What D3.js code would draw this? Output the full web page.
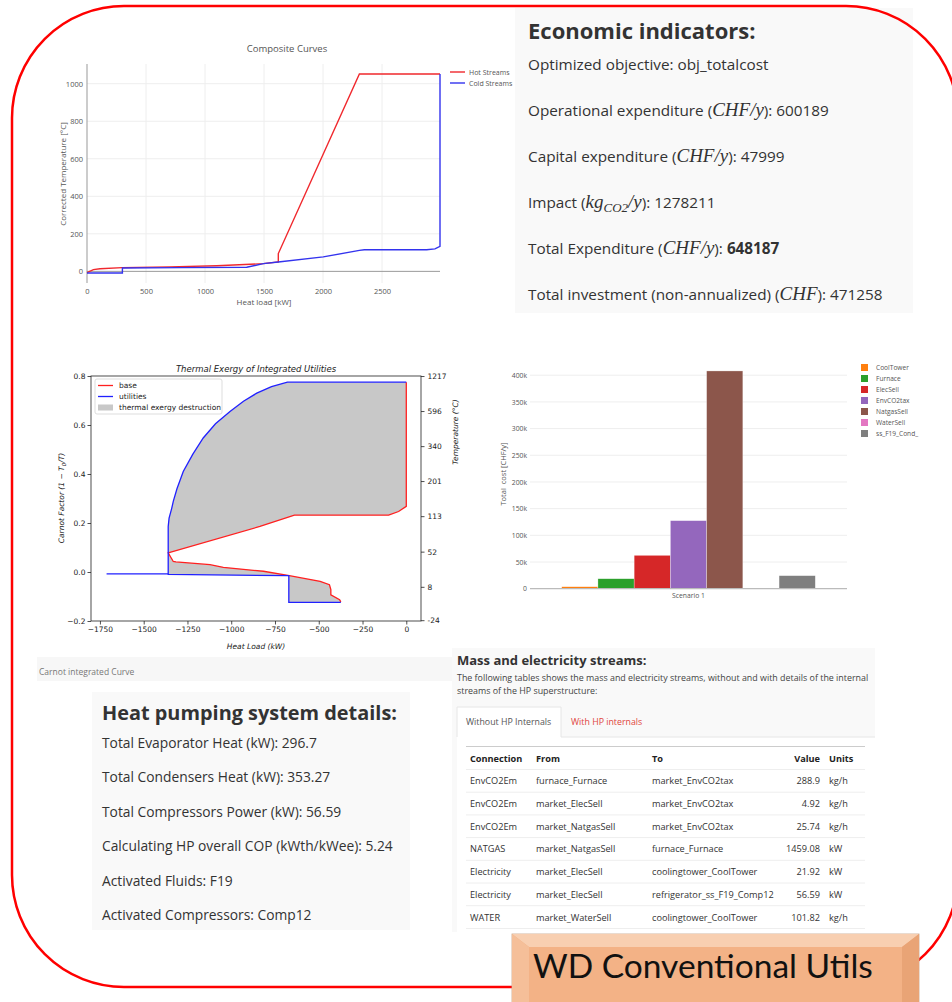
<!DOCTYPE html>
<html>
<head>
<meta charset="utf-8">
<script src="https://cdn.jsdelivr.net/npm/d3@7"></script>
<style>
body { margin: 0; background: #fff; }
svg { display: block; }
</style>
</head>
<body>
<svg id="page" width="952" height="1002"></svg>
<script>
// ---- composite curves ----
var hotLoad = [0, 54, 110, 300, 700, 1100, 1494, 1621, 1621, 2308, 2991];
var hotTemp = [-7, 9, 14, 20, 24, 30, 41, 50, 95, 1052, 1052];
var coldLoad = [0, 300, 300, 800, 1353, 1494, 1621, 2002, 2308, 2350, 2878, 2948, 2991, 2991];
var coldTemp = [-9, -9, 18, 20, 22, 41, 50, 77, 112, 115, 115, 120, 133, 1052];
var ccLoadTicks = [0, 500, 1000, 1500, 2000, 2500];
var ccTempTicks = [0, 200, 400, 600, 800, 1000];

// ---- thermal exergy (carnot) ----
var baseLoad = [0, 0, -44, -101, -639, -836, -1360, -1331, -1316, -1121, -1045, -816, -668, -492, -439, -431, -431, -381, -374];
var baseCarnot = [0.775, 0.268, 0.247, 0.232, 0.232, 0.186, 0.078, 0.043, 0.041, 0.030, 0.019, 0.003, -0.015, -0.038, -0.052, -0.072, -0.093, -0.113, -0.122];
var utilLoad = [-374, -671, -671, -1360, -1360, -1355, -1340, -1331, -1310, -1274, -1220, -1160, -1090, -1007, -930, -854, -770, -679, 0];
var utilCarnot = [-0.124, -0.124, -0.015, -0.010, 0.186, 0.22, 0.26, 0.288, 0.34, 0.41, 0.48, 0.547, 0.605, 0.655, 0.697, 0.73, 0.757, 0.775, 0.775];
var utilTailLoad = [-1712, -1360];
var utilTailCarnot = [-0.008, -0.008];
var carnotTicks = [0.8, 0.6, 0.4, 0.2, 0.0, -0.2];
var exLoadTicks = [-1750, -1500, -1250, -1000, -750, -500, -250, 0];
var tempTicks = [1217, 596, 340, 201, 113, 52, 8, -24];

// ---- cost bars ----
var costNames = ["CoolTower", "Furnace", "ElecSell", "EnvCO2tax", "NatgasSell", "WaterSell", "ss_F19_Cond_"];
var costValues = [3700, 18700, 62500, 127500, 408000, 1000, 24400];
var costColors = ["#ff7f0e", "#2ca02c", "#d62728", "#9467bd", "#8c564b", "#e377c2", "#7f7f7f"];
var costTicks = [0, 50000, 100000, 150000, 200000, 250000, 300000, 350000, 400000];
var scenarios = ["Scenario 1"];

// ---- text panels ----
var hpLines = [
	"Total Evaporator Heat (kW): 296.7",
	"Total Condensers Heat (kW): 353.27",
	"Total Compressors Power (kW): 56.59",
	"Calculating HP overall COP (kWth/kWee): 5.24",
	"Activated Fluids: F19",
	"Activated Compressors: Comp12"
];
var tableHeader = ["Connection", "From", "To", "Value", "Units"];
var colConnection = ["EnvCO2Em", "EnvCO2Em", "EnvCO2Em", "NATGAS", "Electricity", "Electricity", "WATER"];
var colFrom = ["furnace_Furnace", "market_ElecSell", "market_NatgasSell", "market_NatgasSell", "market_ElecSell", "market_ElecSell", "market_WaterSell"];
var colTo = ["market_EnvCO2tax", "market_EnvCO2tax", "market_EnvCO2tax", "furnace_Furnace", "coolingtower_CoolTower", "refrigerator_ss_F19_Comp12", "coolingtower_CoolTower"];
var colValue = ["288.9", "4.92", "25.74", "1459.08", "21.92", "56.59", "101.82"];
var colUnits = ["kg/h", "kg/h", "kg/h", "kW", "kW", "kW", "kg/h"];

var svg = d3.select("#page");
var SANS = "'Open Sans', sans-serif";
var MPL = "'DejaVu Sans', sans-serif";
var MATH = "'Liberation Serif', serif";

function zip(a, b) {
	return a.map(function(d, i) { return [d, b[i]]; });
}

/* Composite Curves (plotly style) */
function drawComposite() {
	var g = svg.append("g");
	var x = d3.scaleLinear().domain([0, 2991]).range([87, 440]);
	var y = d3.scaleLinear().domain([-62, 1105]).range([283, 64]);

	g.selectAll(".vg").data(ccLoadTicks.slice(1)).enter().append("line")
		.attr("x1", function(d) { return x(d); }).attr("x2", function(d) { return x(d); })
		.attr("y1", 64).attr("y2", 283)
		.attr("stroke", "#eee");
	g.selectAll(".hg").data(ccTempTicks.slice(1)).enter().append("line")
		.attr("x1", 87).attr("x2", 440)
		.attr("y1", function(d) { return y(d); }).attr("y2", function(d) { return y(d); })
		.attr("stroke", "#eee");
	// zero lines
	g.append("line").attr("x1", x(0)).attr("x2", x(0)).attr("y1", 64).attr("y2", 283)
		.attr("stroke", "#999").attr("stroke-width", 1);
	g.append("line").attr("x1", 87).attr("x2", 440).attr("y1", y(0)).attr("y2", y(0))
		.attr("stroke", "#999").attr("stroke-width", 1);

	var xAxis = d3.axisBottom(x).tickValues(ccLoadTicks).tickSize(0).tickPadding(6).tickFormat(d3.format("d"));
	var yAxis = d3.axisLeft(y).tickValues(ccTempTicks).tickSize(0).tickPadding(4).tickFormat(d3.format("d"));
	var ga = g.append("g").attr("transform", "translate(0,283)").call(xAxis);
	var gb = g.append("g").attr("transform", "translate(87,0)").call(yAxis);
	[ga, gb].forEach(function(a) {
		a.select(".domain").remove();
		a.selectAll("text").attr("fill", "#555").style("font-family", SANS).style("font-size", "7.5px");
	});

	var line = d3.line().x(function(d) { return x(d[0]); }).y(function(d) { return y(d[1]); });
	g.append("path").datum(zip(hotLoad, hotTemp)).attr("d", line)
		.attr("fill", "none").attr("stroke", "#f0282d").attr("stroke-width", 1.4);
	g.append("path").datum(zip(coldLoad, coldTemp)).attr("d", line)
		.attr("fill", "none").attr("stroke", "#3333ee").attr("stroke-width", 1.4);

	g.append("text").attr("x", 287).attr("y", 52).attr("text-anchor", "middle")
		.style("font-family", SANS).style("font-size", "9.5px").attr("fill", "#555")
		.text("Composite Curves");
	g.append("text").attr("x", 264).attr("y", 305).attr("text-anchor", "middle")
		.style("font-family", SANS).style("font-size", "8px").attr("fill", "#555")
		.text("Heat load [kW]");
	g.append("text").attr("transform", "translate(66,174) rotate(-90)").attr("text-anchor", "middle")
		.style("font-family", SANS).style("font-size", "8px").attr("fill", "#555")
		.text("Corrected Temperature [°C]");

	var leg = [["Hot Streams", "#f0282d"], ["Cold Streams", "#3333ee"]];
	leg.forEach(function(l, i) {
		g.append("line").attr("x1", 450).attr("x2", 465).attr("y1", 72 + i * 11).attr("y2", 72 + i * 11)
			.attr("stroke", l[1]).attr("stroke-width", 1.4);
		g.append("text").attr("x", 469).attr("y", 75 + i * 11)
			.style("font-family", SANS).style("font-size", "7px").attr("fill", "#555").text(l[0]);
	});
}

/* Thermal exergy (matplotlib style) */
function drawExergy() {
	var g = svg.append("g");
	g.append("rect").attr("x", 37).attr("y", 657).attr("width", 426).attr("height", 24).attr("fill", "#f7f7f7");
	g.append("text").attr("x", 39).attr("y", 675).style("font-family", SANS).style("font-size", "8.5px")
		.attr("fill", "#777").text("Carnot integrated Curve");

	var x = d3.scaleLinear().domain([-1801, 84]).range([91, 421]);
	var y = d3.scaleLinear().domain([-0.2, 0.8]).range([621, 376]);
	var line = d3.line().x(function(d) { return x(d[0]); }).y(function(d) { return y(d[1]); });

	var fillPts = zip(baseLoad, baseCarnot).concat(zip(utilLoad, utilCarnot));
	g.append("path").attr("d", line(fillPts) + "Z").attr("fill", "#c8c8c8").attr("stroke", "none");
	g.append("path").datum(zip(baseLoad, baseCarnot)).attr("d", line)
		.attr("fill", "none").attr("stroke", "#ff2020").attr("stroke-width", 1.3);
	g.append("path").datum(zip(utilLoad, utilCarnot)).attr("d", line)
		.attr("fill", "none").attr("stroke", "#2020ff").attr("stroke-width", 1.3);
	g.append("path").datum(zip(utilTailLoad, utilTailCarnot)).attr("d", line)
		.attr("fill", "none").attr("stroke", "#2020ff").attr("stroke-width", 1.3);

	// frame
	g.append("rect").attr("x", 91).attr("y", 376).attr("width", 330).attr("height", 245)
		.attr("fill", "none").attr("stroke", "#222").attr("stroke-width", 0.8);

	var xAxis = d3.axisBottom(x).tickValues(exLoadTicks).tickSize(3.5).tickPadding(2)
		.tickFormat(function(d) { return d3.format("d")(d).replace("-", "\u2212"); });
	var yAxis = d3.axisLeft(y).tickValues(carnotTicks).tickSize(3.5).tickPadding(2)
		.tickFormat(function(d) { return d3.format(".1f")(d).replace("-", "\u2212"); });
	// right axis: temperature mapped onto carnot factor (T0 = 25 C)
	var yRight = d3.axisRight(y)
		.tickValues(tempTicks.map(function(t) { return 1 - 298.15 / (t + 273.15); }))
		.tickSize(3.5).tickPadding(3)
		.tickFormat(function(d, i) { return tempTicks[i]; });
	var axes = [
		g.append("g").attr("transform", "translate(0,621)").call(xAxis),
		g.append("g").attr("transform", "translate(91,0)").call(yAxis),
		g.append("g").attr("transform", "translate(421,0)").call(yRight)
	];
	axes.forEach(function(a) {
		a.select(".domain").remove();
		a.selectAll("line").attr("stroke", "#222").attr("stroke-width", 0.8);
		a.selectAll("text").attr("fill", "#222").style("font-family", MPL).style("font-size", "7.5px");
	});

	g.append("text").attr("x", 256).attr("y", 372).attr("text-anchor", "middle")
		.style("font-family", MPL).style("font-size", "8.5px").style("font-style", "italic")
		.attr("fill", "#222").text("Thermal Exergy of Integrated Utilities");
	g.append("text").attr("x", 256).attr("y", 649).attr("text-anchor", "middle")
		.style("font-family", MPL).style("font-size", "7.5px").style("font-style", "italic")
		.attr("fill", "#222").text("Heat Load (kW)");
	var yl = g.append("text").attr("transform", "translate(64,498) rotate(-90)").attr("text-anchor", "middle")
		.style("font-family", MPL).style("font-size", "7.5px").style("font-style", "italic").attr("fill", "#222");
	yl.append("tspan").text("Carnot Factor (1 \u2212 ");
	yl.append("tspan").text("T");
	yl.append("tspan").attr("dy", 2).style("font-size", "5.5px").text("0");
	yl.append("tspan").attr("dy", -2).text("/T)");
	g.append("text").attr("transform", "translate(458,432) rotate(-90)").attr("text-anchor", "middle")
		.style("font-family", MPL).style("font-size", "7.5px").style("font-style", "italic")
		.attr("fill", "#222").text("Temperature (°C)");

	// legend
	g.append("rect").attr("x", 95).attr("y", 379).attr("width", 127).attr("height", 35)
		.attr("fill", "#fff").attr("fill-opacity", 0.85).attr("stroke", "#ddd").attr("rx", 2);
	var legs = [["base", "#ff2020", "line"], ["utilities", "#2020ff", "line"], ["thermal exergy destruction", "#c8c8c8", "patch"]];
	legs.forEach(function(l, i) {
		var yy = 385.5 + i * 11;
		if (l[2] == "line") {
			g.append("line").attr("x1", 98).attr("x2", 113).attr("y1", yy).attr("y2", yy)
				.attr("stroke", l[1]).attr("stroke-width", 1.3);
		} else {
			g.append("rect").attr("x", 98).attr("y", yy - 3).attr("width", 15).attr("height", 6).attr("fill", l[1]);
		}
		g.append("text").attr("x", 119).attr("y", yy + 2.7)
			.style("font-family", MPL).style("font-size", "7.5px").attr("fill", "#222").text(l[0]);
	});
}

/* Total cost bars (plotly style) */
function drawCosts() {
	var g = svg.append("g");
	var y = d3.scaleLinear().domain([0, 428500]).range([588.7, 360]);
	var x0 = d3.scaleBand().domain(scenarios).range([530, 847]).paddingInner(0.2).paddingOuter(0.1);
	var x1 = d3.scaleBand().domain(costNames).range([0, x0.bandwidth()]);

	g.selectAll(".grid").data(costTicks.slice(1)).enter().append("line")
		.attr("x1", 530).attr("x2", 847)
		.attr("y1", function(d) { return y(d); }).attr("y2", function(d) { return y(d); })
		.attr("stroke", "#eee");

	g.selectAll(".bar").data(costNames).enter().append("rect")
		.attr("x", function(d) { return x0(scenarios[0]) + x1(d); })
		.attr("width", x1.bandwidth())
		.attr("y", function(d, i) { return y(costValues[i]); })
		.attr("height", function(d, i) { return y(0) - y(costValues[i]); })
		.attr("fill", function(d, i) { return costColors[i]; })
		.attr("stroke", "#fff").attr("stroke-width", 0.5).attr("stroke-opacity", 0.6);

	g.append("line").attr("x1", 530).attr("x2", 847).attr("y1", y(0)).attr("y2", y(0))
		.attr("stroke", "#bbb").attr("stroke-width", 1.2);

	var yAxis = d3.axisLeft(y).tickValues(costTicks).tickSize(0).tickPadding(3)
		.tickFormat(function(d) { return d == 0 ? "0" : (d / 1000) + "k"; });
	var ya = g.append("g").attr("transform", "translate(530,0)").call(yAxis);
	var xAxis = d3.axisBottom(x0).tickSize(0).tickPadding(4);
	var xa = g.append("g").attr("transform", "translate(0,589)").call(xAxis);
	[ya, xa].forEach(function(a) {
		a.select(".domain").remove();
		a.selectAll("text").attr("fill", "#555").style("font-family", SANS).style("font-size", "6.8px");
	});

	g.append("text").attr("transform", "translate(506,474) rotate(-90)").attr("text-anchor", "middle")
		.style("font-family", SANS).style("font-size", "7.5px").attr("fill", "#555")
		.attr("xml:space", "preserve").text("Total  cost [CHF/y]");

	costNames.forEach(function(n, i) {
		var yy = 367.5 + i * 11;
		g.append("rect").attr("x", 861).attr("y", yy - 3.5).attr("width", 7).attr("height", 7)
			.attr("fill", costColors[i]);
		g.append("text").attr("x", 876).attr("y", yy + 2.4)
			.style("font-family", SANS).style("font-size", "6.6px").attr("fill", "#555").text(n);
	});
}

/* Economic indicators panel */
function drawEconomics() {
	var g = svg.append("g");
	g.append("rect").attr("x", 515).attr("y", 8).attr("width", 398).attr("height", 305).attr("fill", "#f9f9f9");
	g.append("text").attr("x", 528).attr("y", 39).style("font-family", SANS).style("font-size", "22px")
		.style("font-weight", "bold").attr("fill", "#333").text("Economic indicators:");

	var lines = [
		[["Optimized objective: obj_totalcost", "n"]],
		[["Operational expenditure (", "n"], ["CHF/y", "m"], ["): 600189", "n"]],
		[["Capital expenditure (", "n"], ["CHF/y", "m"], ["): 47999", "n"]],
		[["Impact (", "n"], ["kg", "m"], ["CO2", "sub"], ["/y", "m"], ["): 1278211", "n"]],
		[["Total Expenditure (", "n"], ["CHF/y", "m"], ["): ", "n"], ["648187", "b"]],
		[["Total investment (non-annualized) (", "n"], ["CHF", "m"], ["): 471258", "n"]]
	];
	lines.forEach(function(parts, i) {
		var t = g.append("text").attr("x", 528).attr("y", 70 + i * 46)
			.style("font-family", SANS).style("font-size", "15.3px").attr("fill", "#333")
			.attr("xml:space", "preserve");
		var shifted = false;
		parts.forEach(function(p) {
			var s = t.append("tspan").text(p[0]);
			if (shifted) { s.attr("dy", -4); shifted = false; }
			if (p[1] == "m") {
				s.style("font-family", MATH).style("font-style", "italic").style("font-size", "19px");
			} else if (p[1] == "sub") {
				s.style("font-family", MATH).style("font-style", "italic").style("font-size", "13px").attr("dy", 4);
				shifted = true;
			} else if (p[1] == "b") {
				s.style("font-weight", "bold");
			}
		});
	});
}

/* Heat pumping panel */
function drawHeatPump() {
	var g = svg.append("g");
	g.append("rect").attr("x", 92).attr("y", 692).attr("width", 318).attr("height", 238).attr("fill", "#f9f9f9");
	g.append("text").attr("x", 102).attr("y", 720).style("font-family", SANS).style("font-size", "19.9px")
		.style("font-weight", "bold").attr("fill", "#333").text("Heat pumping system details:");
	g.selectAll(".hp").data(hpLines).enter().append("text")
		.attr("x", 102).attr("y", function(d, i) { return 748 + i * 34.4; })
		.style("font-family", SANS).style("font-size", "13.8px").attr("fill", "#333")
		.text(function(d) { return d; });
}

/* Mass and electricity streams panel */
function drawStreams() {
	var g = svg.append("g");
	g.append("rect").attr("x", 452).attr("y", 648).attr("width", 423).attr("height", 284).attr("fill", "#f9f9f9");
	g.append("text").attr("x", 457).attr("y", 665).style("font-family", SANS).style("font-size", "13px")
		.style("font-weight", "bold").attr("fill", "#333").text("Mass and electricity streams:");
	g.append("text").attr("x", 457).attr("y", 681).style("font-family", SANS).style("font-size", "8.9px")
		.attr("fill", "#444").text("The following tables shows the mass and electricity streams, without and with details of the internal");
	g.append("text").attr("x", 457).attr("y", 694).style("font-family", SANS).style("font-size", "8.9px")
		.attr("fill", "#444").text("streams of the HP superstructure:");

	// tab content area + active tab
	g.append("rect").attr("x", 457).attr("y", 737).attr("width", 418).attr("height", 195).attr("fill", "#fff");
	g.append("path").attr("d", "M457,737 L457,707 L561,707 L561,737")
		.attr("fill", "#fff").attr("stroke", "#e6e6e6");
	g.append("line").attr("x1", 561).attr("x2", 875).attr("y1", 737).attr("y2", 737).attr("stroke", "#e6e6e6");
	g.append("text").attr("x", 466).attr("y", 725).style("font-family", SANS).style("font-size", "8.8px")
		.attr("fill", "#555").text("Without HP Internals");
	g.append("text").attr("x", 571).attr("y", 725).style("font-family", SANS).style("font-size", "8.8px")
		.attr("fill", "#e0443c").text("With HP internals");

	g.append("line").attr("x1", 466).attr("x2", 865).attr("y1", 746.5).attr("y2", 746.5)
		.attr("stroke", "#ccc").attr("stroke-width", 1.2);

	var colX = [470, 536, 652, 820, 829];
	var anchors = ["start", "start", "start", "end", "start"];
	tableHeader.forEach(function(h, i) {
		g.append("text").attr("x", colX[i]).attr("y", 761.5).attr("text-anchor", anchors[i])
			.style("font-family", SANS).style("font-size", "9.2px").style("font-weight", "bold")
			.attr("fill", "#222").text(h);
	});
	var cols = [colConnection, colFrom, colTo, colValue, colUnits];
	colConnection.forEach(function(c, r) {
		var yy = 781 + r * 22.7;
		g.append("line").attr("x1", 466).attr("x2", 865).attr("y1", yy - 11.5).attr("y2", yy - 11.5)
			.attr("stroke", "#eee");
		cols.forEach(function(col, i) {
			g.append("text").attr("x", colX[i]).attr("y", yy + 3.3).attr("text-anchor", anchors[i])
				.style("font-family", SANS).style("font-size", "9.2px").attr("fill", "#333").text(col[r]);
		});
	});
	g.append("line").attr("x1", 466).attr("x2", 865).attr("y1", 928.5).attr("y2", 928.5).attr("stroke", "#eee");
}

/* rounded red frame and label box */
function drawFrame() {
	svg.append("rect").attr("x", 12).attr("y", 6).attr("width", 946).attr("height", 981)
		.attr("rx", 112).attr("ry", 112)
		.attr("fill", "none").attr("stroke", "#ff0000").attr("stroke-width", 2.5);

	var g = svg.append("g");
	var L = 512, R = 919, T = 934, B = 1010, bw = 17, bh = 13;
	g.append("rect").attr("x", L).attr("y", T).attr("width", R - L).attr("height", B - T)
		.attr("fill", "#f1ae80").attr("stroke", "#c9a58c").attr("stroke-width", 0.8);
	g.append("polygon").attr("points", [[L, T], [R, T], [R - bw, T + bh], [L + bw, T + bh]].join(" "))
		.attr("fill", "#f8cfb1");
	g.append("polygon").attr("points", [[L, T], [L + bw, T + bh], [L + bw, B], [L, B]].join(" "))
		.attr("fill", "#f5bf99");
	g.append("polygon").attr("points", [[R, T], [R - bw, T + bh], [R - bw, B], [R, B]].join(" "))
		.attr("fill", "#e9a476");
	g.append("rect").attr("x", L + bw).attr("y", T + bh).attr("width", R - L - 2 * bw).attr("height", B - T - bh)
		.attr("fill", "#f3b286");
	g.append("text").attr("x", 533).attr("y", 978).style("font-family", "Lato, sans-serif")
		.style("font-size", "33.5px").attr("fill", "#111").text("WD Conventional Utils");
}

drawComposite();
drawExergy();
drawCosts();
drawEconomics();
drawHeatPump();
drawStreams();
drawFrame();
</script>
</body>
</html>
